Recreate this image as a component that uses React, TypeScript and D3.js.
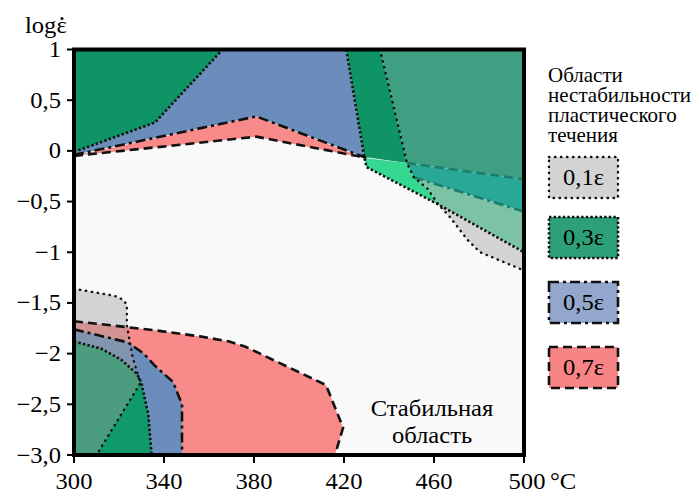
import React from "react";
import * as d3 from "d3";

type P = [number, number];

// axis ticks
const xTicks = [300, 340, 380, 420, 460, 500];
const xTickLabels = ["300", "340", "380", "420", "460", "500"];
const yTicks = [1, 0.5, 0, -0.5, -1, -1.5, -2, -2.5, -3];
const yTickLabels = ["1", "0,5", "0", "−0,5", "−1", "−1,5", "−2", "−2,5", "−3,0"];

// legend
const legendTitle = ["Области", "нестабильности", "пластического", "течения"];
const legendLabels = ["0,1ε", "0,3ε", "0,5ε", "0,7ε"];

// regions, [T °C, log ε̇] — upper part
const blueTop: P[] = [[300, 1], [421, 1], [429, -0.06], [381, 0.34], [300, -0.04]];
const greenTopLeft: P[] = [[300, 1], [366, 1], [336, 0.28], [300, -0.01]];
const pinkTop: P[] = [[300, -0.05], [381, 0.34], [429, -0.07], [381, 0.14]];
const greenStrip: P[] = [[421, 1], [436, 1], [448, -0.12], [429, -0.06]];
const greenRight: P[] = [[436, 1], [500, 1], [500, -0.28], [448, -0.12]];
const brightGreen: P[] = [[429, -0.07], [448, -0.12], [451, -0.26], [457, -0.37], [462, -0.53], [430, -0.16]];
const tealBand: P[] = [[448, -0.12], [500, -0.28], [500, -0.6], [451, -0.26]];
const paleGreen: P[] = [[451, -0.26], [500, -0.6], [500, -1.0], [462, -0.53], [457, -0.37]];
const grayRight: P[] = [[462, -0.53], [500, -1.0], [500, -1.18], [480.5, -1.0], [475, -0.88], [467, -0.65]];

// lower part
const pinkBottom: P[] = [[300, -1.68], [336, -1.77], [356, -1.83], [369, -1.88], [376, -1.93], [412, -2.31], [419.6, -2.73], [416, -3], [300, -3]];
const blueBottom: P[] = [[300, -1.76], [324, -1.89], [331, -2.0], [336, -2.12], [344, -2.28], [348, -2.5], [348, -3], [300, -3]];
const greenBottom: P[] = [[300, -1.88], [312, -1.95], [321, -2.06], [328, -2.2], [330, -2.29], [333, -2.6], [334.5, -3], [300, -3]];
const grayBottom: P[] = [[300, -1.36], [318, -1.43], [322, -1.47], [323.5, -1.52], [323.5, -1.72], [326, -2.03], [329.5, -2.29], [310, -3], [300, -3]];

// boundary lines
const dot01Right: P[] = [[436, 1], [448, -0.12], [451, -0.26], [457, -0.37], [462, -0.53], [467, -0.65], [475, -0.88], [480.5, -1.0], [500, -1.18]];
const dot01Bottom: P[] = grayBottom.slice(0, 8);
const dot03TopLeft: P[] = [[300, -0.01], [336, 0.28], [366, 1]];
const dot03Right: P[] = [[421, 1], [429, -0.06], [430, -0.16], [462, -0.53], [500, -1.0]];
const dot03Bottom: P[] = greenBottom.slice(0, 7);
const dd05Top: P[] = [[300, -0.04], [381, 0.34], [430, -0.07]];
const dd05Right: P[] = [[451, -0.26], [500, -0.6]];
const dd05Bottom: P[] = blueBottom.slice(0, 7);
const dash07Top: P[] = [[300, -0.05], [381, 0.14], [428, -0.06]];
const dash07Right: P[] = [[448, -0.12], [500, -0.28]];
const dash07Bottom: P[] = pinkBottom.slice(0, 8);

const x = d3.scaleLinear().domain([300, 500]).range([74, 524]);
const y = d3.scaleLinear().domain([-3, 1]).range([455, 49.5]);
const line = d3.line<P>().x(d => x(d[0])).y(d => y(d[1]));
const poly = (p: P[]) => line(p) + "Z";

const styles = {
  d01: { stroke: "#111", strokeWidth: 2.4, strokeDasharray: "0.4 5.6", strokeLinecap: "round" as const },
  d03: { stroke: "#111", strokeWidth: 2.6, strokeDasharray: "2.4 2.2" },
  d05: { stroke: "#111", strokeWidth: 2.6, strokeDasharray: "10 4 3 4" },
  d07: { stroke: "#111", strokeWidth: 2.6, strokeDasharray: "9 5" },
};

const font = "Liberation Serif, Times New Roman, serif";

// the source figure's type is a little wider than Times, so stretch it
const Txt = ({ x, y, size = 23, sx = 1.07, anchor = "start", children }:
  { x: number; y: number; size?: number; sx?: number; anchor?: string; children: React.ReactNode }) => (
  <text transform={`translate(${x},${y}) scale(${sx},1)`} textAnchor={anchor} fontSize={size}>{children}</text>
);

export default function App() {
  const fills: [P[], string][] = [
    [blueTop, "#6b8dbb"],
    [greenTopLeft, "#0f9466"],
    [pinkTop, "#f98a8a"],
    [greenStrip, "#0f9466"],
    [greenRight, "#3e9f82"],
    [brightGreen, "#35d890"],
    [tealBand, "#2aa896"],
    [paleGreen, "#7cc3a6"],
    [grayRight, "#d4d4d4"],
    [pinkBottom, "#f98a8a"],
    [blueBottom, "#6b8dbb"],
    [greenBottom, "#10996a"],
  ];
  const lines: [P[], keyof typeof styles, string?][] = [
    [dash07Top, "d07"], [dash07Bottom, "d07"], [dash07Right, "d07", "#1b7d6c"],
    [dd05Top, "d05"], [dd05Bottom, "d05"], [dd05Right, "d05", "#1b7d6c"],
    [dot03TopLeft, "d03"], [dot03Right, "d03"], [dot03Bottom, "d03"],
    [dot01Right, "d01"], [dot01Bottom, "d01"],
  ];
  const legendFill = ["#d3d3d3", "#2ea078", "#93a7cd", "#f88585"];
  const legendStyle: (keyof typeof styles)[] = ["d01", "d03", "d05", "d07"];
  const legendY = [157, 217, 282, 347];

  return (
    <svg width={694} height={494} style={{ position: "absolute", left: 0, top: 0, background: "#fff" }} fontFamily={font}>
      <defs>
        <clipPath id="plot">
          <rect x={74} y={49.5} width={450} height={405.5} />
        </clipPath>
      </defs>
      <rect x={74} y={49.5} width={450} height={405.5} fill="#f9f9f9" />
      <g clipPath="url(#plot)">
        {fills.map(([p, c], i) => <path key={i} d={poly(p)} fill={c} />)}
        <path d={poly(grayBottom)} fill="#a0a0a0" fillOpacity={0.42} />
        {lines.map(([p, s, c], i) => (
          <path key={i} d={line(p) || ""} fill="none" {...styles[s]} stroke={c || styles[s].stroke} />
        ))}
      </g>
      <rect x={74} y={49.5} width={450} height={405.5} fill="none" stroke="#000" strokeWidth={4} />

      {yTicks.map((t, i) => (
        <g key={t}>
          <line x1={67} x2={74} y1={y(t)} y2={y(t)} stroke="#000" strokeWidth={2} />
          <Txt x={61} y={y(t) + 7.5} anchor="end">{yTickLabels[i]}</Txt>
        </g>
      ))}
      {xTicks.map((t, i) => (
        <g key={t}>
          <line x1={x(t)} x2={x(t)} y1={455} y2={463} stroke="#000" strokeWidth={2} />
          <Txt x={x(t) + (t === 500 ? 3 : 0)} y={489} anchor="middle">{xTickLabels[i]}</Txt>
        </g>
      ))}
      <Txt x={550} y={489}>°C</Txt>
      <Txt x={25} y={33}>logε</Txt>
      <circle cx={62} cy={18.5} r={1.5} fill="#000" />

      <Txt x={432} y={416} anchor="middle">Стабильная</Txt>
      <Txt x={432} y={443} anchor="middle">область</Txt>

      {legendTitle.map((t, i) => (
        <Txt key={t} x={548} y={82 + i * 20} size={20} sx={1.05}>{t}</Txt>
      ))}
      {legendLabels.map((l, i) => (
        <g key={l}>
          <rect x={549} y={legendY[i]} width={69} height={41} fill={legendFill[i]} {...styles[legendStyle[i]]} />
          <Txt x={583.5} y={legendY[i] + 28} anchor="middle">{l}</Txt>
        </g>
      ))}
    </svg>
  );
}
